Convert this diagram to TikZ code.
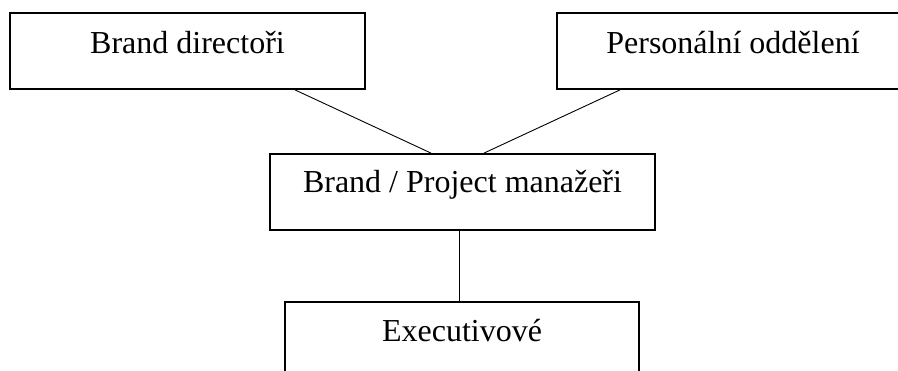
\documentclass[tikz,border=0pt]{standalone}
\usepackage{fontspec}
\setmainfont{Liberation Serif}
\begin{document}
\begin{tikzpicture}[x=1pt,y=-1pt,
  box/.style={draw, line width=1.8pt, rectangle, inner sep=0pt},
  boxtext/.style={anchor=base, inner sep=0pt, font=\fontsize{32}{38}\selectfont},
  link/.style={line width=0.9pt}]
  \clip (0,0) rectangle (898,371);
  \fill[white] (0,0) rectangle (898,371);

  % boxes (centre, size)
  \node[box, minimum width=355pt, minimum height=76pt] (b1) at (187.5,51) {};
  \node[box, minimum width=352pt, minimum height=76pt] (b2) at (733,51) {};
  \node[box, minimum width=385pt, minimum height=76pt] (b3) at (462.5,192) {};
  \node[box, minimum width=354pt, minimum height=76pt] (b4) at (462,340) {};

  % captions, set near the top of each box
  \node[boxtext] (t1) at ([yshift=-41pt]b1.north) {Brand directoři};
  \node[boxtext] (t2) at ([yshift=-41pt]b2.north) {Personální oddělení};
  \node[boxtext] (t3) at ([yshift=-39pt]b3.north) {Brand / Project manažeři};
  \node[boxtext] (t4) at ([yshift=-40pt]b4.north) {Executivové};

  % connectors
  \draw[link] ([xshift=107.5pt]b1.south) -- ([xshift=-31.5pt]b3.north);
  \draw[link] ([xshift=-113pt]b2.south) -- ([xshift=21.5pt]b3.north);
  \draw[link] ([xshift=-3.5pt]b3.south) -- ([xshift=-3pt]b4.north);
\end{tikzpicture}
\end{document}
